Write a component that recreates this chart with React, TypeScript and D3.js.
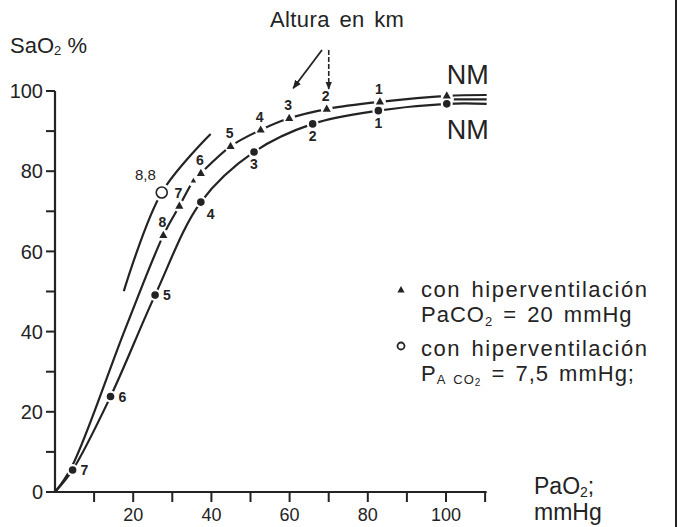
import React from "react";
import * as d3 from "d3";

const W = 682;
const H = 527;

// triangles: hiperventilación, PaCO2 = 20 mmHg (altitude in km)
const triAltitude = ["8", "7", "", "6", "5", "4", "3", "2", "1", "NM"];
const triPaO2 = [27.7, 31.8, 35.4, 37.3, 44.9, 52.6, 59.9, 69.5, 83.1, 100.2];
const triSaO2 = [64, 71.3, 77.6, 79.5, 86.2, 90.3, 93.2, 95.5, 97.3, 98.8];

// filled dots
const dotAltitude = ["7", "6", "5", "4", "3", "2", "1", "NM"];
const dotPaO2 = [4.5, 14.2, 25.6, 37.3, 50.9, 65.9, 82.7, 100.2];
const dotSaO2 = [5.5, 23.8, 49.1, 72.3, 84.8, 91.8, 95.1, 96.8];
const dotLabelSide = ["right", "right", "right", "belowRight", "below", "below", "below", ""];

// extra points, no marker on them
const triStart = [[0, 0], [4.3, 6.3], [17.9, 40.5]];
const triEnd = [[110.4, 99.0]];
const dotStart = [[0, 0]];
const dotEnd = [[110.4, 96.8]];
const nmExtra = [[102, 97.9], [110.4, 97.9]];

// open circle: 8,8 km, PACO2 = 7,5 mmHg
const openPaO2 = [17.6, 27.3, 39.8];
const openSaO2 = [50.1, 74.7, 89.3];
const openLabel = "8,8";

const xTicks = [10, 20, 30, 40, 50, 60, 70, 80, 90, 100, 110];
const xTickLabels = [20, 40, 60, 80, 100];
const yTicks = [0, 10, 20, 30, 40, 50, 60, 70, 80, 90, 100];
const yTickLabels = [0, 20, 40, 60, 80, 100];

const ink = "#232323";
const font = "'Liberation Sans', Arial, sans-serif";

export default function App() {
  const x = d3.scaleLinear().domain([0, 100]).range([55, 446]);
  const y = d3.scaleLinear().domain([0, 100]).range([492, 91]);

  const line = d3
    .line<number[]>()
    .x((d) => x(d[0]))
    .y((d) => y(d[1]))
    .curve(d3.curveCatmullRom.alpha(0.5));

  const triPts = triPaO2.map((v, i) => [v, triSaO2[i]]);
  const dotPts = dotPaO2.map((v, i) => [v, dotSaO2[i]]);
  const openPts = openPaO2.map((v, i) => [v, openSaO2[i]]);

  const triPath = line([...triStart, ...triPts, ...triEnd]);
  const dotPath = line([...dotStart, ...dotPts, ...dotEnd]);
  const openPath = line(openPts);
  const nmPath = d3.line<number[]>().x((d) => x(d[0])).y((d) => y(d[1]))(nmExtra);

  const tri = (cx: number, cy: number, s: number) =>
    `M${cx},${cy - s}L${cx + s * 0.9},${cy + s * 0.6}L${cx - s * 0.9},${cy + s * 0.6}Z`;

  // arrows from "Altura en km" to the labels 3 and 2
  const i3 = triAltitude.indexOf("3");
  const i2 = triAltitude.indexOf("2");
  const a3 = [x(triPaO2[i3]) + 4, y(triSaO2[i3]) - 30];
  const a2 = [x(triPaO2[i2]) + 2, y(triSaO2[i2]) - 20];

  const legendText = { fontSize: 22, fill: ink, letterSpacing: 1.5, wordSpacing: 3 };

  return (
    <svg width={W} height={H} style={{ position: "absolute", left: 0, top: 0, background: "#fff" }} fontFamily={font}>
      <defs>
        <marker id="ah" viewBox="0 0 10 10" refX="9" refY="5" markerWidth="5" markerHeight="6" orient="auto">
          <path d="M0,1L10,5L0,9Z" fill={ink} />
        </marker>
      </defs>
      {/* right frame */}
      <line x1={676} x2={676} y1={0} y2={H} stroke={ink} strokeWidth={2} />

      {/* y axis */}
      <line x1={x(0)} x2={x(0)} y1={y(0)} y2={y(100)} stroke={ink} strokeWidth={2.2} />
      {yTicks.map((t) => (
        <line key={"yt" + t} x1={x(0) - 9} x2={x(0)} y1={y(t)} y2={y(t)} stroke={ink} strokeWidth={2} />
      ))}
      {yTickLabels.map((t) => (
        <text key={"yl" + t} x={x(0) - 12} y={y(t)} dy="0.36em" textAnchor="end" fontSize={20} fill={ink}>
          {t}
        </text>
      ))}

      {/* x axis */}
      <line x1={x(0)} x2={x(110.4)} y1={y(0)} y2={y(0)} stroke={ink} strokeWidth={2.2} />
      {xTicks.map((t) => (
        <line key={"xt" + t} x1={x(t)} x2={x(t)} y1={y(0)} y2={y(0) + 10} stroke={ink} strokeWidth={2} />
      ))}
      {xTickLabels.map((t) => (
        <text key={"xl" + t} x={x(t)} y={521} textAnchor="middle" fontSize={18} fill={ink}>
          {t}
        </text>
      ))}

      {/* axis titles */}
      <text x={10} y={53} fontSize={22} fill={ink}>
        SaO<tspan fontSize={13} dy={2}>2</tspan>
        <tspan dy={-2}> %</tspan>
      </text>
      <text x={534} y={494} fontSize={23} fill={ink}>
        PaO<tspan fontSize={14} dy={3}>2</tspan>
        <tspan dy={-3}>;</tspan>
      </text>
      <text x={534} y={520} fontSize={23} fill={ink}>mmHg</text>

      {/* title and arrows */}
      <text x={270} y={27} fontSize={22} fill={ink} letterSpacing={0.4} wordSpacing={3}>
        Altura en km
      </text>
      <line x1={322} y1={50} x2={a3[0]} y2={a3[1]} stroke={ink} strokeWidth={1.8} markerEnd="url(#ah)" />
      <line x1={a2[0]} y1={50} x2={a2[0]} y2={a2[1]} stroke={ink} strokeWidth={1.6} strokeDasharray="5,2" markerEnd="url(#ah)" />

      {/* curves */}
      <path d={triPath || ""} fill="none" stroke={ink} strokeWidth={2.2} />
      <path d={dotPath || ""} fill="none" stroke={ink} strokeWidth={2.2} />
      <path d={openPath || ""} fill="none" stroke={ink} strokeWidth={2.2} />
      <path d={nmPath || ""} fill="none" stroke={ink} strokeWidth={2.2} />

      {/* gaps around the markers */}
      {triPts.map((p, i) => (
        <circle key={"tg" + i} cx={x(p[0])} cy={y(p[1])} r={6} fill="#fff" />
      ))}
      {dotPts.map((p, i) => (
        <circle key={"dg" + i} cx={x(p[0])} cy={y(p[1])} r={6} fill="#fff" />
      ))}
      <circle cx={x(openPts[1][0])} cy={y(openPts[1][1])} r={9} fill="#fff" />

      {/* markers */}
      {triPts.map((p, i) => (
        <path key={"tm" + i} d={tri(x(p[0]), y(p[1]), triAltitude[i] ? 4.5 : 3)} fill={ink} />
      ))}
      {dotPts.map((p, i) => (
        <circle key={"dm" + i} cx={x(p[0])} cy={y(p[1])} r={3.8} fill={ink} />
      ))}
      <circle cx={x(openPts[1][0])} cy={y(openPts[1][1])} r={5.5} fill="#fff" stroke={ink} strokeWidth={1.6} />

      {/* marker labels */}
      {triPts.map((p, i) =>
        triAltitude[i] && triAltitude[i] !== "NM" ? (
          <text key={"tl" + i} x={x(p[0]) - 1} y={y(p[1]) - 8} textAnchor="middle" fontSize={14} fontWeight="bold" fill={ink}>
            {triAltitude[i]}
          </text>
        ) : null
      )}
      {dotPts.map((p, i) => {
        const side = dotLabelSide[i];
        if (!side) return null;
        const dx = side === "right" ? 8 : side === "belowRight" ? 6 : 0;
        const dy = side === "right" ? 5 : 17;
        return (
          <text key={"dl" + i} x={x(p[0]) + dx} y={y(p[1]) + dy} textAnchor={side === "below" ? "middle" : "start"} fontSize={14} fontWeight="bold" fill={ink}>
            {dotAltitude[i]}
          </text>
        );
      })}
      <text x={x(openPts[1][0]) - 6} y={y(openPts[1][1]) - 12} textAnchor="end" fontSize={15} fill={ink}>
        {openLabel}
      </text>

      {/* NM labels */}
      <text x={x(triPaO2[triPaO2.length - 1])} y={84} fontSize={27} fill={ink}>NM</text>
      <text x={x(dotPaO2[dotPaO2.length - 1])} y={139} fontSize={27} fill={ink}>NM</text>

      {/* legend */}
      <path d={tri(401, 290, 4)} fill={ink} />
      <text x={421} y={297} {...legendText}>con hiperventilación</text>
      <text x={421} y={322} {...legendText} letterSpacing={1}>
        PaCO<tspan fontSize={13} dy={4}>2</tspan>
        <tspan dy={-4}> = 20  mmHg</tspan>
      </text>
      <circle cx={401} cy={346} r={3.5} fill="#fff" stroke={ink} strokeWidth={1.8} />
      <text x={421} y={356} {...legendText}>con hiperventilación</text>
      <text x={421} y={381} {...legendText} letterSpacing={1}>
        P<tspan fontSize={13} dy={3}>A CO</tspan>
        <tspan fontSize={10} dy={2}>2</tspan>
        <tspan dy={-5}> = 7,5  mmHg;</tspan>
      </text>
    </svg>
  );
}
